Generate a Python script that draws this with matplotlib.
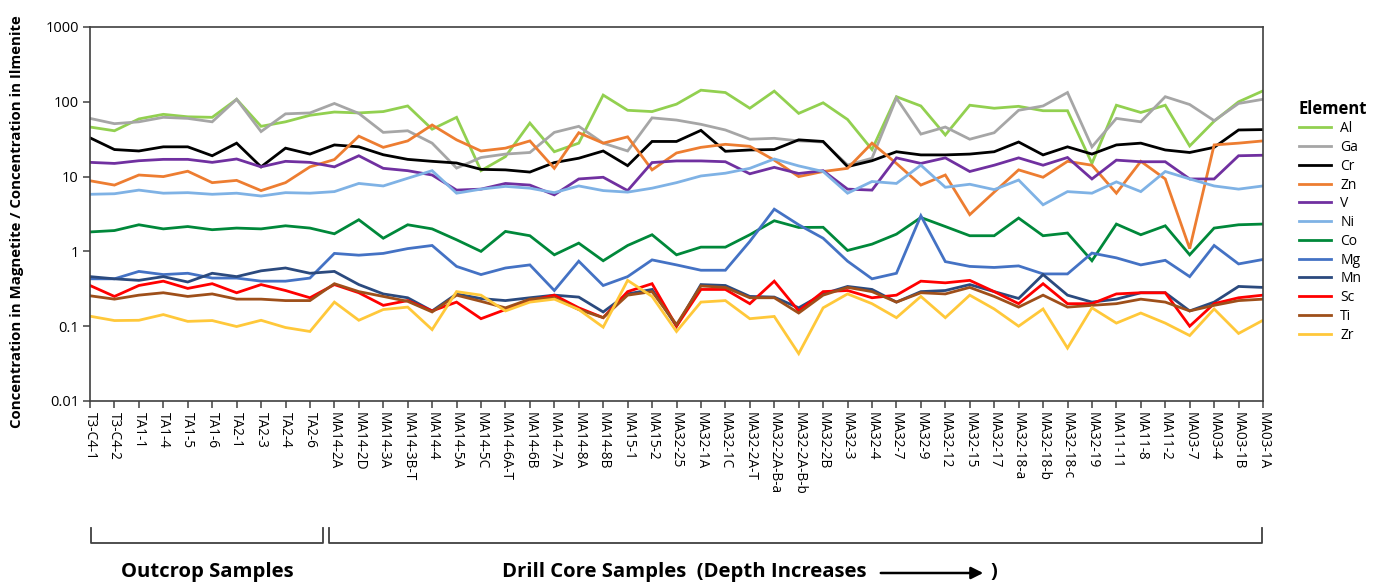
import matplotlib
matplotlib.use("Agg")
import matplotlib.pyplot as plt
from matplotlib.lines import Line2D
from matplotlib.ticker import FixedLocator, FixedFormatter, NullLocator

plt.rcParams['font.family'] = ['Open Sans', 'DejaVu Sans']

samples = ["T3-C4-1", "T3-C4-2", "TA1-1", "TA1-4", "TA1-5", "TA1-6", "TA2-1", "TA2-3", "TA2-4", "TA2-6",
           "MA14-2A", "MA14-2D", "MA14-3A", "MA14-3B-T", "MA14-4", "MA14-5A", "MA14-5C", "MA14-6A-T",
           "MA14-6B", "MA14-7A", "MA14-8A", "MA14-8B", "MA15-1", "MA15-2", "MA32-25", "MA32-1A", "MA32-1C",
           "MA32-2A-T", "MA32-2A-B-a", "MA32-2A-B-b", "MA32-2B", "MA32-3", "MA32-4", "MA32-7", "MA32-9",
           "MA32-12", "MA32-15", "MA32-17", "MA32-18-a", "MA32-18-b", "MA32-18-c", "MA32-19", "MA11-11",
           "MA11-8", "MA11-2", "MA03-7", "MA03-4", "MA03-1B", "MA03-1A"]

Al = [46, 41, 59, 68, 63, 62, 108, 47, 54, 66,
      73, 71, 74, 88, 43, 62, 12,
      18.5, 52, 21.5, 28, 123, 77, 74, 93, 143, 133, 82, 139, 70, 97, 58,
      23, 117, 88, 36, 90, 82, 87, 76, 76, 15, 90, 72, 90, 25.7, 55, 100, 140]
Ga = [60, 51, 54, 62, 60, 54, 108, 40, 69, 71,
      95, 70, 39, 41, 28, 13, 18,
      20, 21, 39, 47, 28, 22, 61, 57, 50, 42, 31.6, 32.5, 30, 29, 14.3,
      17.6, 112, 37, 46, 31.6, 38.6, 77, 88, 133, 25, 60, 54, 117, 92, 56, 95, 108]
Cr = [33, 23, 22, 25, 25, 19, 28, 13.5, 24, 20,
      26.5, 25, 19.6, 17, 16, 15.2, 12.5,
      12.3, 11.5, 15.4, 17.6, 22, 14, 29.5, 29.5, 41.5, 21.8, 22.7, 23, 31, 29.5, 13.6,
      16.3, 21.5, 19.5, 19.5, 20, 21.5, 29, 19.5, 25, 20, 26.5, 28, 22.7, 21, 24.6, 42, 42.5]
Zn = [8.8, 7.7, 10.5, 10, 11.8, 8.3, 8.9, 6.5, 8.3, 13.5,
      16.9, 34.7, 24.6, 30, 49, 31, 22,
      24, 30, 12.9, 38.6, 28, 34, 12.3, 20.7, 24.6, 27, 25.4, 16.6, 10, 11.7, 12.9,
      28, 15, 7.7, 10.5, 3.1, 6.2, 12.3, 9.8, 16, 14.2, 6.0, 16, 9.3, 1.09, 26.5, 28, 30]
V = [15.5, 15, 16.3, 17, 17, 15.5, 17.2, 13.5, 16, 15.5,
     13.5, 19, 12.9, 12, 10.5, 6.6, 6.8,
     8.1, 7.7, 5.7, 9.3, 9.8, 6.5, 15.4, 16.2, 16.2, 15.8, 10.9, 13.3, 11, 12, 6.8,
     6.6, 17.8, 15, 17.8, 11.7, 14.2, 17.8, 14.2, 18, 9.3, 16.6, 15.8, 15.8, 9.3, 9.3, 19, 19.3]
Ni = [5.8, 5.9, 6.6, 6.0, 6.1, 5.8, 6.0, 5.5, 6.1, 6.0,
      6.3, 8.1, 7.5, 9.5, 12, 6.0, 6.8,
      7.4, 7.0, 6.1, 7.5, 6.5, 6.2, 7.0, 8.3, 10.2, 11.1, 12.9, 17.2, 13.9, 11.7, 6.0,
      8.6, 8.1, 14.2, 7.2, 7.9, 6.7, 9.0, 4.2, 6.3, 6.0, 8.5, 6.3, 11.7, 9.3, 7.5, 6.8, 7.5]
Co = [1.82, 1.9, 2.27, 2.0, 2.15, 1.95, 2.05, 2.0, 2.2, 2.05,
      1.72, 2.65, 1.5, 2.27, 2.0, 1.43, 1.0,
      1.85, 1.62, 0.9, 1.29, 0.75, 1.2, 1.67, 0.9, 1.14, 1.14, 1.67, 2.57, 2.09, 2.1, 1.03,
      1.25, 1.7, 2.84, 2.15, 1.62, 1.62, 2.79, 1.62, 1.76, 0.75, 2.32, 1.67, 2.2, 0.9, 2.05, 2.27, 2.32]
Mg = [0.43, 0.43, 0.54, 0.49, 0.51, 0.44, 0.44, 0.40, 0.40, 0.44,
      0.94, 0.89, 0.94, 1.09, 1.2, 0.63, 0.49,
      0.6, 0.66, 0.3, 0.74, 0.35, 0.46, 0.77, 0.66, 0.56, 0.56, 1.36, 3.67, 2.27, 1.5, 0.74,
      0.43, 0.51, 3.0, 0.73, 0.63, 0.61, 0.64, 0.5, 0.5, 0.95, 0.82, 0.66, 0.76, 0.46, 1.2, 0.68, 0.78]
Mn = [0.46, 0.43, 0.41, 0.46, 0.39, 0.51, 0.46, 0.55, 0.60, 0.51,
      0.54, 0.36, 0.27, 0.24, 0.16, 0.27, 0.234,
      0.22, 0.24, 0.26, 0.245, 0.155, 0.27, 0.31, 0.1, 0.36, 0.35, 0.25, 0.245, 0.176, 0.27, 0.34,
      0.31, 0.21, 0.29, 0.30, 0.36, 0.29, 0.235, 0.49, 0.26, 0.21, 0.23, 0.28, 0.28, 0.16, 0.21, 0.34, 0.33]
Sc = [0.35, 0.25, 0.35, 0.40, 0.32, 0.37, 0.28, 0.36, 0.30, 0.24,
      0.36, 0.28, 0.19, 0.22, 0.16, 0.21, 0.126,
      0.167, 0.22, 0.26, 0.176, 0.13, 0.29, 0.37, 0.1, 0.31, 0.31, 0.2, 0.4, 0.16, 0.29, 0.3,
      0.24, 0.26, 0.4, 0.38, 0.41, 0.29, 0.2, 0.37, 0.2, 0.2, 0.27, 0.28, 0.28, 0.1, 0.2, 0.24, 0.26]
Ti = [0.255, 0.23, 0.26, 0.28, 0.25, 0.27, 0.23, 0.23, 0.22, 0.22,
      0.37, 0.29, 0.25, 0.215, 0.155, 0.26, 0.215,
      0.176, 0.23, 0.24, 0.167, 0.13, 0.26, 0.29, 0.105, 0.345, 0.33, 0.24, 0.24, 0.15, 0.26, 0.33,
      0.29, 0.21, 0.28, 0.27, 0.33, 0.25, 0.18, 0.26, 0.18, 0.19, 0.2, 0.23, 0.21, 0.16, 0.19, 0.22, 0.23]
Zr = [0.136, 0.119, 0.12, 0.143, 0.116, 0.119, 0.099, 0.12, 0.096, 0.085,
      0.21, 0.12, 0.167, 0.18, 0.09, 0.29, 0.26,
      0.16, 0.21, 0.23, 0.167, 0.097, 0.41, 0.25, 0.085, 0.21, 0.22, 0.126, 0.135, 0.043, 0.176, 0.27,
      0.2, 0.13, 0.25, 0.13, 0.26, 0.17, 0.1, 0.17, 0.051, 0.176, 0.11, 0.15, 0.11, 0.075, 0.17, 0.08, 0.12]

elements = ["Al", "Ga", "Cr", "Zn", "V", "Ni", "Co", "Mg", "Mn", "Sc", "Ti", "Zr"]
series = [Al, Ga, Cr, Zn, V, Ni, Co, Mg, Mn, Sc, Ti, Zr]
colors = ["#92D050", "#A6A6A6", "#000000", "#ED7D31", "#7030A0", "#7FB2E5",
          "#00883A", "#4472C4", "#2B4A7E", "#FF0000", "#9E4F1A", "#FFC83A"]

W, H = 1381, 584
fig = plt.figure(figsize=(W / 100, H / 100), dpi=100)
ax = fig.add_axes([90 / W, 1 - 401 / H, (1263 - 90) / W, (401 - 27) / H])

x = list(range(len(samples)))
for name, vals, c in zip(elements, series, colors):
    ax.plot(x, vals, color=c, lw=2.0, label=name, solid_joinstyle='miter')

ax.set_yscale('log')
ax.set_ylim(0.01, 1000)
ax.set_xlim(0, len(samples) - 1)
yt = [0.01, 0.1, 1, 10, 100, 1000]
ax.yaxis.set_major_locator(FixedLocator(yt))
ax.yaxis.set_major_formatter(FixedFormatter(["0.01", "0.1", "1", "10", "100", "1000"]))
ax.yaxis.set_minor_locator(NullLocator())
ax.set_xticks(x)
ax.set_xticklabels(samples, rotation=270, ha='center', va='top', fontsize=9.8)
ax.tick_params(axis='y', labelsize=10.5, length=5, width=1.1, color='#404040', pad=3)
ax.tick_params(axis='x', length=5, width=1.1, color='#404040', pad=3)
for s in ax.spines.values():
    s.set_color('#404040')
    s.set_linewidth(1.2)

fig.text(17 / W, 1 - 222 / H, "Concentration in Magnetite / Concentration in Ilmenite",
         rotation=90, ha='center', va='center', fontsize=10.8, fontweight='bold')

leg = ax.legend(loc='upper left', bbox_to_anchor=(1293 / W, 1 - 94 / H), bbox_transform=fig.transFigure,
                frameon=False, title="Element", fontsize=10, handlelength=2.3, labelspacing=0.27,
                handletextpad=0.7, borderaxespad=0)
leg.get_title().set_fontweight('bold')
leg.get_title().set_fontsize(12)
leg._legend_box.align = "left"


def fx(px):
    return px / W


def fy(py):
    return 1 - py / H


bk = dict(color='#404040', lw=1.3, transform=fig.transFigure)
for x0, x1 in [(91, 323), (329, 1262)]:
    fig.add_artist(Line2D([fx(x0), fx(x0), fx(x1), fx(x1)], [fy(528), fy(543), fy(543), fy(528)], **bk))

fig.text(fx(207), fy(572), "Outcrop Samples", ha='center', va='center', fontsize=14.6, fontweight='bold')
fig.text(fx(502), fy(572), "Drill Core Samples  (Depth Increases", ha='left', va='center',
         fontsize=14.6, fontweight='bold')
fig.text(fx(990), fy(572), ")", ha='left', va='center', fontsize=14.6, fontweight='bold')
fig.add_artist(matplotlib.patches.FancyArrowPatch((fx(878), fy(573)), (fx(986), fy(573)),
                                                  transform=fig.transFigure, arrowstyle='-|>',
                                                  mutation_scale=18, lw=1.8, color='black'))

fig.savefig("out.png", dpi=100)
